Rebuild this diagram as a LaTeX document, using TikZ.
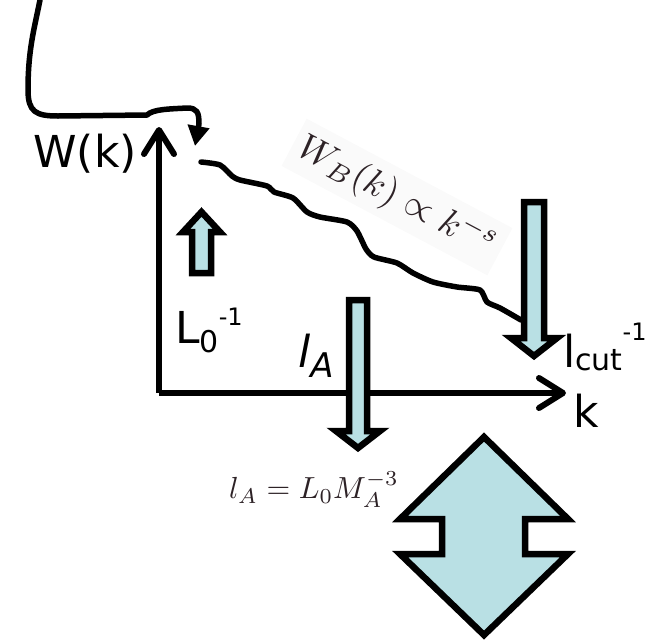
\documentclass[tikz,border=0pt]{standalone}
\usepackage{fontspec}
\setmainfont{DejaVu Sans}
\usetikzlibrary{arrows.meta}
\definecolor{paleblue}{RGB}{185,224,228}
\definecolor{printink}{RGB}{45,34,38}
\tikzset{
  axis/.style={line width=6pt,-{Straight Barb[length=24pt,width=30pt,round]}},
  pen/.style={line width=5.5pt,line cap=round,line join=round},
  blockarrow/.style={draw=black,line width=6.5pt,fill=paleblue,line join=miter},
  hand/.style={inner sep=0pt,font=\fontsize{44}{44}\selectfont},
  printed/.style={inner sep=1pt,text=printink}
}
\begin{document}
\begin{tikzpicture}[x=1pt,y=-1pt]
\useasboundingbox (0,0) rectangle (652,643);

% axes
\coordinate (O) at (159,393);
\coordinate (ytop) at (159,127);
\coordinate (xend) at (566,393);
\draw[axis] (O) -- (ytop);
\draw[axis] (O) -- (xend);
\node[hand,anchor=base east] (wlabel) at (137,167) {W(k)};
\node[hand,anchor=base west] (klabel) at (573,427) {k};

% label of the power law, on a faint card
\node[printed,fill=black!2,inner sep=2pt,rotate=-28,scale=3.7] (powerlaw) at (397,197)
  {$W_B(k)\propto k^{-s}$};

% spectrum
\draw[pen] plot[smooth,tension=0.4] coordinates {
  (201,162) (220,165) (232,176) (240,180) (267,186) (274,192) (293,198)
  (307,212) (320,217) (347,222) (357,231) (366,249) (374,257) (397,263)
  (413,273) (433,282) (457,287) (480,290) (487,302) (500,308) (521,320)};

% arrow coming in from above
\coordinate (tail) at (40,0);
\coordinate (drop) at (195,146);
\draw[pen,-{Triangle[length=20pt,width=21pt]}] (tail)
  .. controls (34,30) and (28,50) .. (28,90)
  .. controls (28,112) and (36,116) .. (58,116)
  -- (147,115) .. controls (153,109) and (170,109) .. (187,108)
  .. controls (197,108) and (199,112) .. (199,124) -- (drop);

% scale markers
\draw[blockarrow] (192,273) -- (192,232) -- (183,232) -- (201.5,212)
  -- (220,232) -- (211,232) -- (211,273) -- cycle;
\node[hand,anchor=base west] (Lzero) at (175,343)
  {L\raisebox{-9pt}{\fontsize{30}{30}\selectfont 0}\raisebox{18pt}{\fontsize{24}{24}\selectfont -1}};

\draw[blockarrow] (349,300) -- (367,300) -- (367,431) -- (380,431)
  -- (358,448) -- (336,431) -- (349,431) -- cycle;
\node[hand,anchor=base west] (lA) at (298,367)
  {\itshape l\raisebox{-10pt}{\fontsize{34}{34}\selectfont A}};

\draw[blockarrow] (524,202) -- (544,202) -- (544,338) -- (557,338)
  -- (534,356) -- (511,338) -- (524,338) -- cycle;
\node[hand,anchor=base west] (lcut) at (563,367)
  {l\raisebox{-3pt}{\fontsize{30}{30}\selectfont cut}\raisebox{27pt}{\fontsize{24}{24}\selectfont -1}};

\node[printed,scale=3.05] (alfven) at (314,490)
  {$l_A=L_0M_A^{-3}$};

% double arrow
\draw[blockarrow] (484,437) -- (568,519) -- (525,519) -- (525,554)
  -- (568,554) -- (484,635) -- (400,554) -- (442,554) -- (442,519)
  -- (400,519) -- cycle;
\end{tikzpicture}
\end{document}
